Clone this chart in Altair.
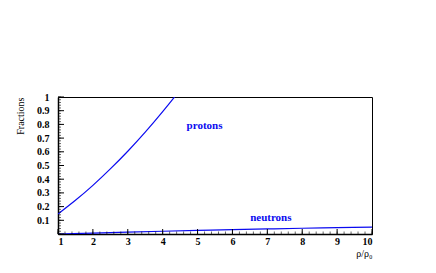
import altair as alt
import pandas as pd

x_protons = [1.0, 1.5, 2.0, 2.5, 3.0, 3.5, 4.0, 4.34]
y_protons = [0.146, 0.246, 0.355, 0.475, 0.604, 0.743, 0.893, 1.0]
x_neutrons = [1, 2, 3, 4, 5, 6, 7, 8, 9, 10]
y_neutrons = [0.0, 0.007, 0.014, 0.02, 0.026, 0.032, 0.037, 0.042, 0.046, 0.05]

label_text = ["protons", "neutrons"]
label_x = [5.2, 7.1]
label_y = [0.79, 0.115]

x_major = list(range(1, 11))
x_minor = [1 + i * 0.2 for i in range(46)]
y_major = [i / 10 for i in range(0, 11)]
y_minor = [i / 50 for i in range(0, 51)]

W, H = 314, 137
blue = "#0a0af0"
font = "Liberation Serif"

df = pd.concat([
    pd.DataFrame({"x": x_protons, "y": y_protons, "s": "protons"}),
    pd.DataFrame({"x": x_neutrons, "y": y_neutrons, "s": "neutrons"}),
])

xs = alt.Scale(domain=[1, 10], nice=False)
ys = alt.Scale(domain=[0, 1], nice=False)

xaxis = alt.Axis(values=x_major, ticks=False, domain=True, domainColor="black", domainWidth=1.5,
                 grid=False, labelFont=font, labelOverlap=False,
                 labelFontWeight="bold", labelFontSize=10, labelPadding=2, labelColor="black",
                 title="ρ/ρ₀", titleFont=font, titleFontSize=10, titleFontWeight="normal",
                 titleAnchor="end", titlePadding=2, titleColor="black")
yaxis = alt.Axis(values=y_major[1:], ticks=False, domain=True, domainColor="black", domainWidth=1.5,
                 grid=False, labelFont=font, labelOverlap=False,
                 labelFontWeight="bold", labelFontSize=10, labelPadding=9, labelColor="black",
                 labelExpr="datum.value == 1 ? '1' : format(datum.value, '.1f')",
                 title="Fractions", titleFont=font, titleFontSize=10, titleColor="black",
                 titleFontWeight="normal", titleAnchor="end", titlePadding=11)

lines = alt.Chart(df).mark_line(color=blue, strokeWidth=1.2, interpolate="natural", clip=True).encode(
    x=alt.X("x:Q", scale=xs, axis=xaxis),
    y=alt.Y("y:Q", scale=ys, axis=yaxis),
    detail="s:N",
)

xmaj = alt.Chart(pd.DataFrame({"x": x_major})).mark_rule(color="black", strokeWidth=1).encode(
    x=alt.X("x:Q", scale=xs, axis=xaxis), y=alt.value(H), y2=alt.value(H - 5))
xmin = alt.Chart(pd.DataFrame({"x": x_minor})).mark_rule(color="black", strokeWidth=0.6).encode(
    x=alt.X("x:Q", scale=xs, axis=xaxis), y=alt.value(H), y2=alt.value(H - 2.5))
ymaj = alt.Chart(pd.DataFrame({"y": y_major})).mark_rule(color="black", strokeWidth=1).encode(
    y=alt.Y("y:Q", scale=ys, axis=yaxis), x=alt.value(0), x2=alt.value(6))
ymin = alt.Chart(pd.DataFrame({"y": y_minor})).mark_rule(color="black", strokeWidth=0.6).encode(
    y=alt.Y("y:Q", scale=ys, axis=yaxis), x=alt.value(0), x2=alt.value(3))

labels = alt.Chart(pd.DataFrame({"t": label_text, "x": label_x, "y": label_y})).mark_text(
    color=blue, font=font, fontWeight="bold", fontSize=11).encode(
    x=alt.X("x:Q", scale=xs, axis=xaxis), y=alt.Y("y:Q", scale=ys, axis=yaxis), text="t:N")

chart = alt.layer(lines, xmin, xmaj, ymin, ymaj, labels).properties(
    width=W, height=H,
    autosize=alt.AutoSizeParams(type="none"),
    padding={"left": 50, "top": 89, "right": 50, "bottom": 40},
).configure(background="white", view=alt.ViewConfig(stroke="black", strokeWidth=1))

chart.save("out.html", embed_options={"renderer": "svg", "actions": False})
